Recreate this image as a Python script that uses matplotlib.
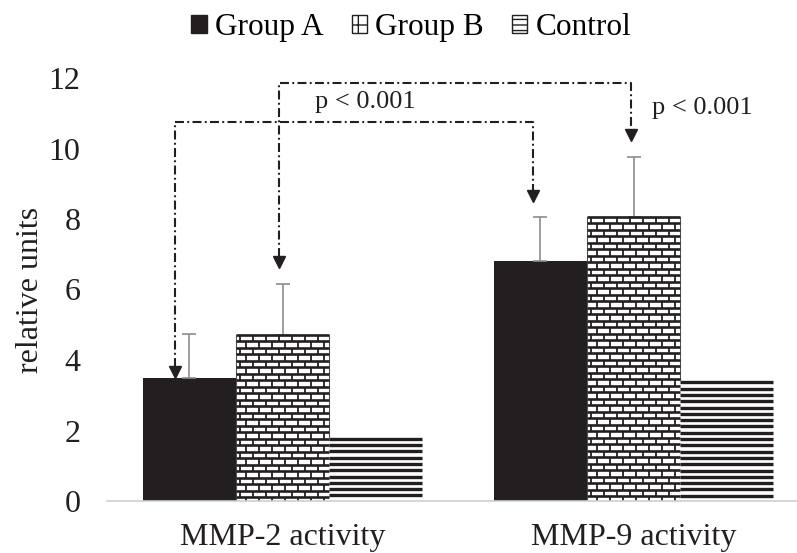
"""Bar chart of MMP-2 / MMP-9 activity with brick and stripe fills."""

import matplotlib

matplotlib.use("Agg")
import matplotlib.pyplot as plt
from matplotlib.collections import LineCollection
from matplotlib.patches import Patch

plt.rcParams["font.family"] = ["Liberation Serif", "DejaVu Serif"]

categories = ["MMP-2 activity", "MMP-9 activity"]
series = ["Group A", "Group B", "Control"]
group_a = [3.5, 6.8]
group_a_err = [1.25, 1.27]
group_b = [4.72, 8.07]
group_b_err = [1.43, 1.68]
control = [1.8, 3.4]

# significance brackets: (series idx, cat idx) -> (series idx, cat idx)
brackets = [
    dict(start=(0, 0), end=(0, 1), level=10.75, tips=(3.5, 8.49)),
    dict(start=(1, 0), end=(1, 1), level=11.86, tips=(6.62, 10.24)),
]
p_labels = ["p < 0.001", "p < 0.001"]
p_pos = [(0.094, 11.15), (1.054, 10.98)]

W, H, DPI = 7.97, 5.53, 100
AX_L, AX_R, AX_B, AX_T = 107, 797, 501, 78   # axes box in pixels
XLIM = (-0.5, -0.5 + (AX_R - AX_L) / 351)
YLIM = (0, 12)
BAR_W = 0.265
INK = "#231f20"

fig = plt.figure(figsize=(W, H), dpi=DPI)
ax = fig.add_axes([AX_L / (W * DPI), 1 - AX_B / (H * DPI),
                   (AX_R - AX_L) / (W * DPI), (AX_B - AX_T) / (H * DPI)])
ax.set_xlim(*XLIM)
ax.set_ylim(*YLIM)

# data units per pixel
px_x = (XLIM[1] - XLIM[0]) / (AX_R - AX_L)
px_y = (YLIM[1] - YLIM[0]) / (AX_B - AX_T)


def bar_x(s, c):
    return c + (s - 1) * BAR_W


def brick_fill(rect, row_px=6.5, brick_px=13.0):
    x0, y0 = rect.get_x(), rect.get_y()
    x1, y1 = x0 + rect.get_width(), y0 + rect.get_height()
    dy, dx = row_px * px_y, brick_px * px_x
    hseg, vseg = [], []
    k = 0
    y = y1
    while y > y0 - dy:
        hseg.append([(x0, y), (x1, y)])
        shift = 0.5 * dx * (k % 2)
        x = x0 + shift + 0.3 * dx
        while x < x1:
            vseg.append([(x, y), (x, y - dy)])
            x += dx
        y -= dy
        k += 1
    for segs, lw in ((hseg, 1.9), (vseg, 1.3)):
        lc = LineCollection(segs, colors=INK, linewidths=lw, zorder=2.5)
        lc.set_clip_path(rect)
        ax.add_collection(lc)


def stripe_fill(rect, row_px=6.3):
    x0, y0 = rect.get_x(), rect.get_y()
    x1, y1 = x0 + rect.get_width(), y0 + rect.get_height()
    dy = row_px * px_y
    segs = []
    y = y1 - 1.2 * px_y
    while y > y0:
        segs.append([(x0, y), (x1, y)])
        y -= dy
    lc = LineCollection(segs, colors=INK, linewidths=2.4, zorder=2.5)
    lc.set_clip_path(rect)
    ax.add_collection(lc)


xs = range(len(categories))
err_kw = dict(ecolor="#8c8c8c", elinewidth=1.2, capsize=5, capthick=1.2)
bars_a = ax.bar([bar_x(0, c) for c in xs], group_a, BAR_W, color=INK,
                yerr=[[0] * 2, group_a_err], error_kw=err_kw, zorder=2)
bars_b = ax.bar([bar_x(1, c) for c in xs], group_b, BAR_W, color="white",
                edgecolor="#555555", linewidth=0.8,
                yerr=[[0] * 2, group_b_err], error_kw=err_kw, zorder=2)
bars_c = ax.bar([bar_x(2, c) for c in xs], control, BAR_W, color="white",
                zorder=2)
for r in bars_b:
    brick_fill(r)
for r in bars_c:
    stripe_fill(r)

# brackets with arrowheads
head_px = 11
for br, off in zip(brackets, [(-0.04, -0.02), (-0.011, -0.006)]):
    (s0, c0), (s1, c1) = br["start"], br["end"]
    xa = bar_x(s0, c0) + off[0]
    xb = bar_x(s1, c1) + off[1]
    ta, tb = br["tips"]
    lvl = br["level"]
    ax.plot([xa, xa, xb, xb],
            [ta + head_px * px_y, lvl, lvl, tb + head_px * px_y],
            color=INK, lw=1.5, ls=(0, (4.3, 1.6, 0.9, 1.6)), zorder=4)
    ax.plot([xa, xb], [ta + 0.5 * head_px * px_y, tb + 0.5 * head_px * px_y],
            ls="none", marker="v", ms=9, color=INK, zorder=4)

for lab, (px_, py_) in zip(p_labels, p_pos):
    ax.text(px_, py_, lab, fontsize=19, color=INK, va="baseline",
            ha="left", zorder=5)

for side in ("top", "right", "left"):
    ax.spines[side].set_visible(False)
ax.spines["bottom"].set_color("#d0d0d0")
ax.spines["bottom"].set_linewidth(1.2)
ax.set_xticks(list(xs))
ax.set_xticklabels(categories)
ax.set_yticks(range(0, 13, 2))
ax.tick_params(axis="both", length=0, labelsize=23, colors=INK)
ax.tick_params(axis="y", pad=19)
ax.tick_params(axis="x", pad=15.5)
ax.set_ylabel("relative units", fontsize=23, color=INK, labelpad=3)

handles = [
    Patch(facecolor=INK, edgecolor=INK),
    Patch(facecolor="white", edgecolor=INK, hatch="+"),
    Patch(facecolor="white", edgecolor=INK, hatch="---"),
]
fig.legend(handles, series, loc="center", bbox_to_anchor=(0.516, 0.95),
           ncol=3, frameon=False, fontsize=22.5, handlelength=0.5,
           handleheight=0.5, handletextpad=0.25, columnspacing=0.9)

fig.savefig("out.png", dpi=DPI)
